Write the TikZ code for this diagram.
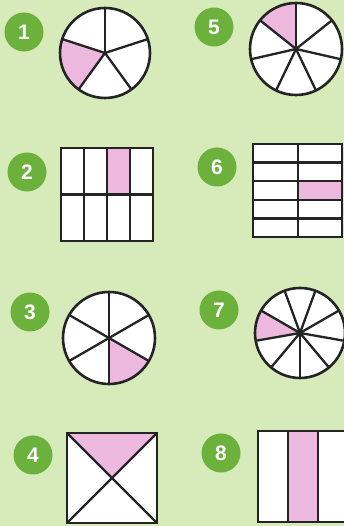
\documentclass[tikz,border=0pt]{standalone}
\usepackage{fontspec}
\setsansfont{Liberation Sans}
\usetikzlibrary{positioning}
\definecolor{bggreen}{HTML}{D6EABA}
\definecolor{badgegreen}{HTML}{6BB13C}
\definecolor{pinkpart}{HTML}{ECB8DD}
\definecolor{ink}{HTML}{242424}
\tikzset{
  badge/.style  = {circle, fill=badgegreen, text=white, minimum size=39pt, inner sep=0pt,
                   font=\sffamily\bfseries\fontsize{21}{21}\selectfont},
  part/.style   = {draw=ink, line width=2.5pt, fill=white},
  cut/.style    = {draw=ink, line width=2.3pt},
  rim/.style    = {draw=ink, line width=2.6pt}
}
% centre, radius, parts, first spoke, shaded from, shaded to
\newcommand{\cutpie}[6]{%
  \fill[white] (#1) circle (#2);
  \fill[pinkpart] (#1) -- ++(#5:#2) arc (#5:#6:#2) -- cycle;
  \foreach \k in {1,...,#3}
    \draw[cut] (#1) -- ++({#4+360*\k/#3}:#2);
  \draw[rim] (#1) circle (#2);
}

\begin{document}
\begin{tikzpicture}[x=1pt, y=1pt]
  \fill[bggreen] (0,0) rectangle (344,526);
  \useasboundingbox (0,0) rectangle (344,526);
  \clip (0,0) rectangle (344,526);

  % number badges
  \node[badge] (b1) at (24,494) {1};
  \node[badge] (b2) at (27,354) {2};
  \node[badge] (b3) at (30,214) {3};
  \node[badge] (b4) at (33,71)  {4};
  \node[badge] (b5) at (214,499) {5};
  \node[badge] (b6) at (217,359) {6};
  \node[badge] (b7) at (219,216) {7};
  \node[badge] (b8) at (221,73)  {8};

  % circles
  \coordinate (c1) at (105,473);
  \coordinate (c3) at (109,188);
  \coordinate (c5) at (296,477);
  \coordinate (c7) at (300,193);
  \cutpie{c1}{45}{5}{90}{162}{234}
  \cutpie{c3}{46}{6}{90}{270}{330}
  \cutpie{c5}{46}{7}{90}{90}{141.43}
  \cutpie{c7}{45}{9}{110}{150}{190}

  % 2: four by two
  \fill[white] (61,285) rectangle (153,378);
  \fill[pinkpart] (107,331.5) rectangle (130,378);
  \foreach \x in {84,107,130}
    \draw[cut] (\x,285) -- (\x,378);
  \draw[cut] (61,331.5) -- (153,331.5);
  \draw[part, fill=none] (61,285) rectangle (153,378);

  % 6: two by five
  \fill[white] (253,289) rectangle (342,382);
  \fill[pinkpart] (298,326.2) rectangle (342,344.8);
  \draw[cut] (298,289) -- (298,382);
  \foreach \y in {307.6,326.2,344.8,363.4}
    \draw[cut] (253,\y) -- (342,\y);
  \draw[part, fill=none] (253,289) rectangle (342,382);

  % 4: square with diagonals
  \fill[white] (67,3) rectangle (157,93);
  \fill[pinkpart] (67,93) -- (157,93) -- (112,48) -- cycle;
  \draw[cut] (67,3) -- (157,93);
  \draw[cut] (67,93) -- (157,3);
  \draw[part, fill=none] (67,3) rectangle (157,93);

  % 8: three columns
  \fill[white] (258,4) rectangle (348,95);
  \fill[pinkpart] (288,4) rectangle (318,95);
  \foreach \x in {288,318}
    \draw[cut] (\x,4) -- (\x,95);
  \draw[part, fill=none] (258,4) rectangle (348,95);
\end{tikzpicture}
\end{document}
